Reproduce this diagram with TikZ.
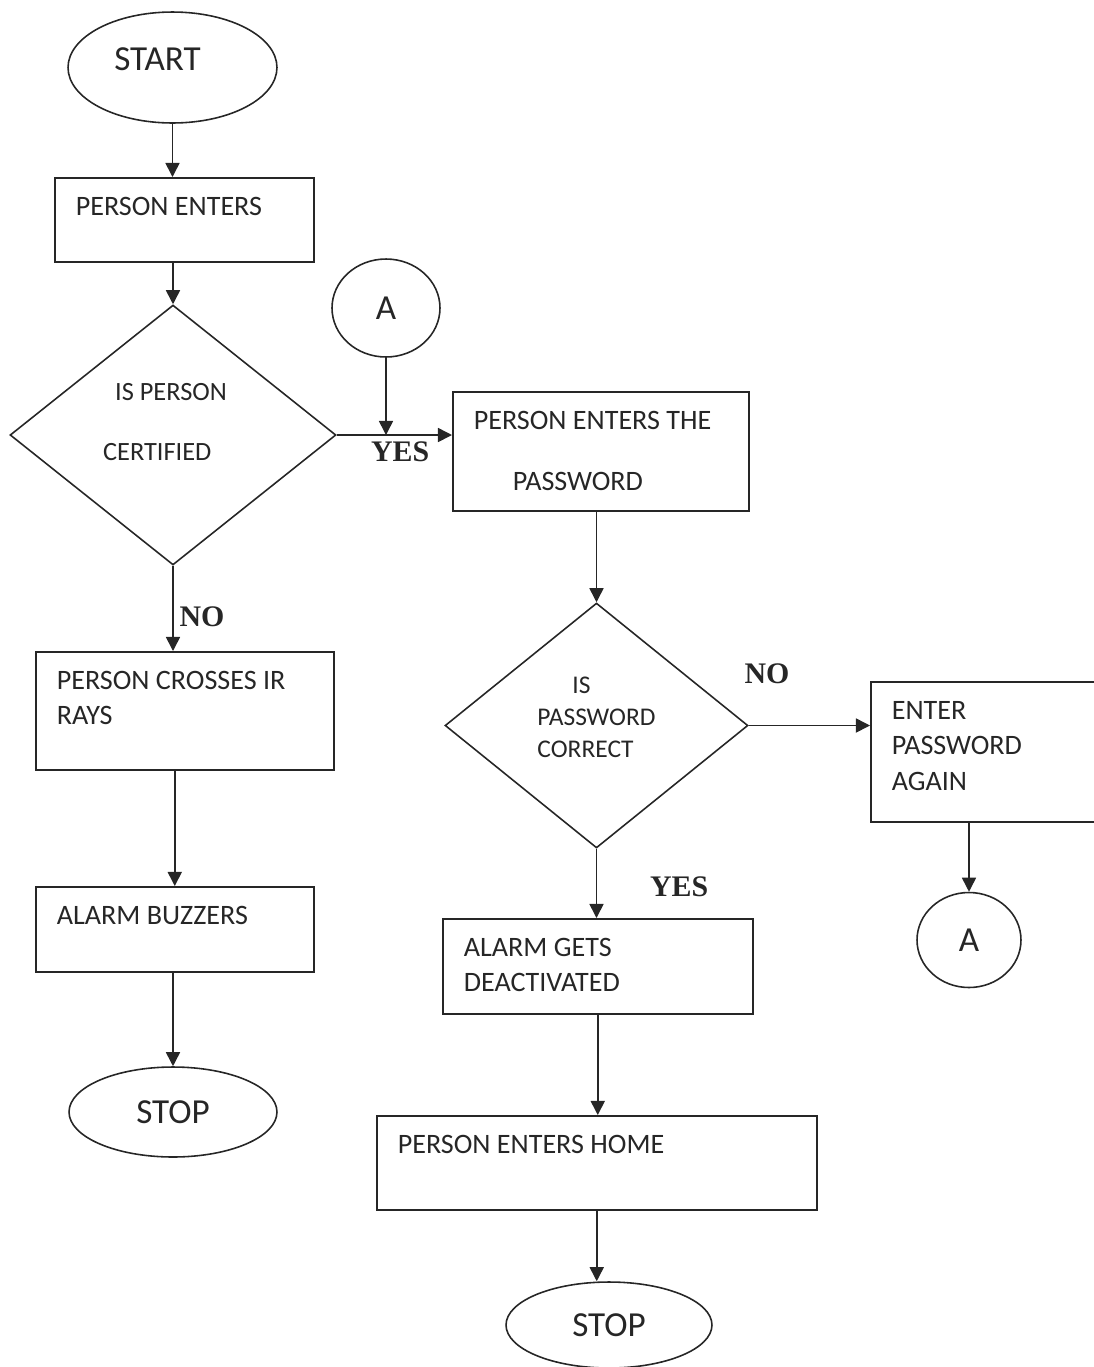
\documentclass[tikz,border=0pt]{standalone}
\usepackage{fontspec}
\newfontfamily\calfont{Carlito}
\newfontfamily\timesfont{Liberation Serif}
\usetikzlibrary{shapes.geometric,arrows.meta}

\begin{document}
\begin{tikzpicture}[x=0.02cm, y=-0.02cm, line width=0.9pt, color=black!85,
    arr/.style={-{Triangle[length=8pt,width=8pt]}},
    term/.style={draw, ellipse, inner sep=0pt, font=\calfont\fontsize{20}{24}\selectfont},
    procbox/.style={draw, rectangle, anchor=north west, align=flush left, inner xsep=0.42cm,
        inner ysep=0pt, text height=0.76cm, font=\calfont\fontsize{16}{20}\selectfont},
    decision/.style={draw, diamond, inner sep=0pt, align=flush left},
    lbl/.style={font=\timesfont\bfseries\fontsize{17}{20}\selectfont}]

    \useasboundingbox (0,0) rectangle (1093,1367);

    \node[term, minimum width=4.18cm, minimum height=2.22cm, text depth=0.35cm] (start) at (172.5,67.5)
        {START\hspace*{0.6cm}};
    \node[procbox, text width=4.34cm, text depth=0.92cm] (pe) at (54,177) {PERSON ENTERS};
    \node[decision, minimum width=6.52cm, minimum height=5.2cm, text height=1.52cm, text depth=0.52cm,
        font=\calfont\fontsize{15}{18}\selectfont] (d1) at (173,435)
        {\hspace*{0.24cm}IS PERSON\hspace*{0.32cm}\\[0.55cm]CERTIFIED};
    \node[term, minimum width=2.16cm, minimum height=1.96cm] (a1) at (386,308) {A};

    \node[procbox, text width=5.12cm, text depth=1.6cm] (cross) at (35,651) {PERSON CROSSES IR\\RAYS};
    \node[procbox, text width=4.72cm, text depth=0.94cm] (buzz) at (35,886) {ALARM BUZZERS};
    \node[term, minimum width=4.16cm, minimum height=1.8cm] (stop1) at (173,1112) {STOP};

    \node[procbox, text width=5.08cm, text depth=1.62cm] (pwd) at (452,391)
        {PERSON ENTERS THE\\[0.52cm]\hspace*{0.78cm}PASSWORD};
    \node[decision, minimum width=6.06cm, minimum height=4.9cm, text height=1.58cm, text depth=0.32cm,
        font=\calfont\fontsize{14.5}{18}\selectfont] (d2) at (596.5,725.5)
        {\hspace*{0.7cm}IS\\PASSWORD\\CORRECT};
    \node[procbox, text width=5.36cm, text depth=1.14cm] (deact) at (442,918) {ALARM GETS\\DEACTIVATED};
    \node[procbox, text width=7.96cm, text depth=1.12cm] (home) at (376,1115) {PERSON ENTERS HOME};
    \node[term, minimum width=4.12cm, minimum height=1.72cm] (stop2) at (609,1325) {STOP};

    \node[procbox, text width=3.96cm, text depth=2.04cm] (again) at (870,681) {ENTER\\PASSWORD\\AGAIN};
    \node[term, minimum width=2.08cm, minimum height=1.9cm] (a2) at (969,940) {A};

    \foreach \a/\b in {start.south/pe.north, deact.south/home.north, home.south/stop2.north, a1.south/d1.east}
        \draw[arr] (\a) -- (\a |- \b);
    \foreach \a/\b in {pe.south/d1.north, cross.south/buzz.north, buzz.south/stop1.north, pwd.south/d2.north, again.south/a2.north}
        \draw[arr] (\b |- \a) -- (\b);

    \draw[arr] (d1.east) -- node[lbl, below, pos=0.55] (yes1) {YES} (d1.east -| pwd.west);
    \draw[arr] (d1.south) -- node[lbl, right, pos=0.6] (no1) {NO} (d1.south |- cross.north);
    \draw[arr] (d2.east) -- node[lbl, above=0.7cm, pos=0.15] (no2) {NO} (d2.east -| again.west);
    \draw[arr] (d2.south) -- node[lbl, right=0.94cm, pos=0.55] (yes2) {YES} (d2.south |- deact.north);

\end{tikzpicture}
\end{document}
